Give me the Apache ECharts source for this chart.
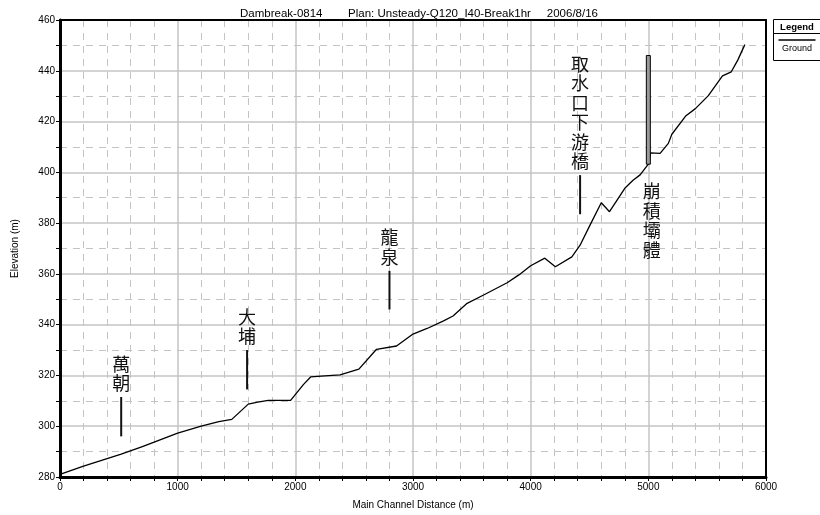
<!DOCTYPE html>
<html>
<head>
<meta charset="utf-8">
<script src="https://cdn.jsdelivr.net/npm/echarts@6/dist/echarts.min.js"></script>
<style>
  html, body { margin: 0; padding: 0; background: #fff; }
  #chart { width: 820px; height: 515px; }
</style>
</head>
<body>
<div id="chart"></div>
<script>
// Longitudinal ground profile along the main channel
const distances = [0, 200, 520, 700, 1000, 1200, 1350, 1460, 1600, 1680,
  1770, 1960, 2070, 2130, 2250, 2380, 2540, 2690, 2860, 3000,
  3120, 3260, 3340, 3460, 3600, 3800, 3900, 4000, 4120, 4210,
  4350, 4420, 4500, 4600, 4670, 4800, 4870, 4930, 5000, 5020,
  5100, 5170, 5200, 5320, 5400, 5510, 5630, 5705, 5760, 5820];
const groundElev = [281, 284.3, 289, 292, 297.3, 300, 301.8, 302.7, 308.7, 309.5,
  310.2, 310.2, 316.5, 319.4, 319.8, 320.2, 322.5, 330.3, 331.6, 336.3,
  338.5, 341.5, 343.4, 348.4, 351.7, 356.5, 359.6, 363.2, 366.2, 362.8,
  366.7, 371.3, 378.8, 388, 384.5, 393.7, 396.9, 399, 403.2, 407.7,
  407.5, 411.4, 415, 422.3, 425.1, 430.2, 438, 439.6, 444.2, 450.3];

// Bridge deck / obstruction drawn as a narrow block
const bridgeX = [5000];
const bridgeLow = [403.2];
const bridgeHigh = [446];

// Place-name annotations (pointer from low to high; text stacked above)
const annoNames = ['萬朝', '大埔', '龍泉', '取水口下游橋', '崩積壩體'];
const annoX = [520, 1590, 2800, 4420, 5030];
const annoLow = [296, 314.5, 346, 383.5, null];
const annoHigh = [311.5, 330, 361.2, 398.9, 396.3];

const titleParts = ['Dambreak-0814', 'Plan: Unsteady-Q120_I40-Break1hr', '2006/8/16'];
const FONT = '"Liberation Sans", Arial, sans-serif';
const CJK = '"Noto Sans CJK TC", "Noto Sans CJK SC", sans-serif';

const chart = echarts.init(document.getElementById('chart'), null, { renderer: 'canvas' });

const gridColor = '#c4c4c4';
function axisBase(extra) {
  return Object.assign({
    type: 'value',
    axisLine: { show: true, onZero: false, lineStyle: { color: '#000', width: 3 } },
    axisTick: { show: true, length: 4, lineStyle: { color: '#000', width: 1 } },
    axisLabel: { fontSize: 10, color: '#000', fontFamily: FONT, margin: 5,
                 formatter: function (v) { return String(v); } },
    splitLine: { show: true, lineStyle: { color: gridColor, width: 1.5 } },
    minorSplitLine: { show: true, lineStyle: { color: gridColor, width: 1, type: [7, 6] } },
    nameTextStyle: { fontSize: 10, color: '#000', fontFamily: FONT }
  }, extra);
}
function borderAxis(extra) {
  return Object.assign({
    type: 'value',
    axisLine: { show: true, onZero: false, lineStyle: { color: '#000', width: 2 } },
    axisTick: { show: false },
    axisLabel: { show: false },
    splitLine: { show: false }
  }, extra);
}

const option = {
  animation: false,
  backgroundColor: '#fff',
  title: {
    text: titleParts[0] + '        ' + titleParts[1] + '     ' + titleParts[2],
    left: 414,
    textAlign: 'center',
    top: 3,
    textStyle: { fontSize: 11.5, fontWeight: 'normal', color: '#000', fontFamily: FONT }
  },
  grid: { left: 60, right: 54, top: 20, bottom: 38 },
  xAxis: [
    axisBase({
      min: 0, max: 6000, interval: 1000,
      minorTick: { show: true, splitNumber: 5, length: 4, lineStyle: { color: '#000' } },
      name: 'Main Channel Distance (m)', nameLocation: 'middle', nameGap: 23
    }),
    borderAxis({ position: 'top', min: 0, max: 6000 })
  ],
  yAxis: [
    axisBase({
      min: 280, max: 460, interval: 20,
      minorTick: { show: true, splitNumber: 2, length: 4, lineStyle: { color: '#000' } },
      name: 'Elevation (m)', nameLocation: 'middle', nameGap: 40, nameRotate: 90
    }),
    borderAxis({ position: 'right', min: 280, max: 460 })
  ],
  series: [
    {
      name: 'Ground',
      type: 'line',
      data: distances.map((d, i) => [d, groundElev[i]]),
      symbol: 'none',
      lineStyle: { color: '#000', width: 1.3 },
      z: 5
    },
    {
      type: 'custom',
      data: bridgeX.map((x, i) => [x, bridgeLow[i], bridgeHigh[i]]),
      renderItem: function (params, api) {
        const lo = api.coord([api.value(0), api.value(1)]);
        const hi = api.coord([api.value(0), api.value(2)]);
        return {
          type: 'rect',
          shape: { x: lo[0] - 2, y: hi[1], width: 4, height: lo[1] - hi[1] },
          style: { fill: '#9a9a9a', stroke: '#000', lineWidth: 1 }
        };
      },
      z: 6
    },
    {
      type: 'custom',
      data: annoX.map((x, i) => [x, annoHigh[i]]),
      encode: { x: 0, y: 1 },
      renderItem: function (params, api) {
        const i = params.dataIndex;
        const top = api.coord([annoX[i], annoHigh[i]]);
        const text = annoNames[i].split('').join('\n');
        const children = [];
        if (annoLow[i] !== null) {
          const bot = api.coord([annoX[i], annoLow[i]]);
          children.push({
            type: 'line',
            shape: { x1: top[0], y1: top[1], x2: bot[0], y2: bot[1] },
            style: { stroke: '#111', lineWidth: 2 }
          });
          children.push({
            type: 'text',
            style: {
              text: text, x: top[0], y: top[1] - 4,
              align: 'center', verticalAlign: 'bottom',
              font: '18px ' + CJK, lineHeight: 19.5, fill: '#111'
            }
          });
        } else {
          children.push({
            type: 'text',
            style: {
              text: text, x: top[0], y: top[1],
              align: 'center', verticalAlign: 'top',
              font: '18px ' + CJK, lineHeight: 19.5, fill: '#111'
            }
          });
        }
        return { type: 'group', children: children };
      },
      z: 7
    }
  ],
  graphic: [
    {
      type: 'group', left: 771, top: 19,
      children: [
        { type: 'rect', shape: { x: 0, y: 0, width: 47, height: 41 },
          style: { fill: '#fff', stroke: '#000', lineWidth: 1 } },
        { type: 'line', shape: { x1: 0, y1: 14, x2: 47, y2: 14 },
          style: { stroke: '#000', lineWidth: 1 } },
        { type: 'text', style: { text: 'Legend', x: 23.5, y: 7.5, align: 'center', verticalAlign: 'middle',
          font: 'bold 9.5px ' + FONT, fill: '#000' } },
        { type: 'line', shape: { x1: 5, y1: 20.5, x2: 42, y2: 20.5 },
          style: { stroke: '#000', lineWidth: 1.5 } },
        { type: 'text', style: { text: 'Ground', x: 23.5, y: 29.5, align: 'center', verticalAlign: 'middle',
          font: '9px ' + FONT, fill: '#000' } }
      ]
    }
  ]
};

chart.setOption(option);
</script>
</body>
</html>
